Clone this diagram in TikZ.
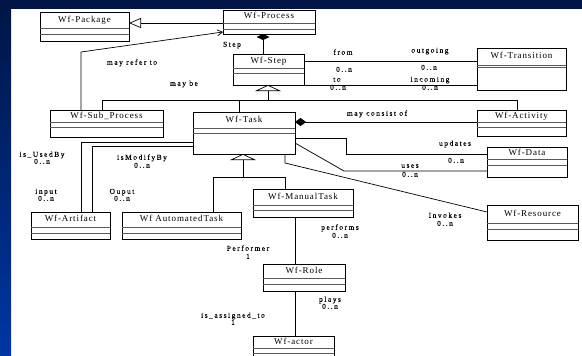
\documentclass[tikz,border=0pt]{standalone}
\usepackage{fontspec}
\setmainfont{Liberation Serif}
\newfontfamily\spfont[LetterSpace=20,FakeBold=0.15]{Liberation Serif}
\newfontfamily\ttlspfont[LetterSpace=10]{Liberation Serif}
\usetikzlibrary{arrows.meta,calc}
\definecolor{navy}{HTML}{001545}
\definecolor{sideblue}{HTML}{0036A3}
\newcommand\umlcls[8]{%
  \node[clsbox, minimum width={#4-#2}, minimum height={#5-#3}, anchor=north west] (#1) at (#2,#3) {};
  \node[ttl] (#1t) at ({(#2+#4)/2},{(#3+#6)/2}) {#8};
  \draw[compline] (#2,#6) -- (#4,#6) (#2,#7) -- (#4,#7);
}
\begin{document}
\begin{tikzpicture}[x=1pt,y=-1pt,
  clsbox/.style={draw=black, line width=0.9pt, inner sep=0pt, outer sep=0pt},
  compline/.style={draw=black!65, line width=0.8pt},
  ttl/.style={font=\ttlspfont\fontsize{9}{9}\selectfont, inner sep=0pt, text height=6pt, text depth=1.5pt},
  lbl/.style={font=\spfont\fontsize{7.5}{8}\selectfont, inner sep=0pt, text height=5pt, text depth=1.5pt},
  conn/.style={draw=black, line width=0.7pt},
  genbig/.style={-{Triangle[open,length=12pt,width=10pt]}},
  genflat/.style={-{Triangle[open,length=6pt,width=26pt]}}
]
\useasboundingbox (0,0) rectangle (582,356);
\fill[white] (0,0) rectangle (582,356);
\shade[top color=navy, bottom color=sideblue] (0,0) rectangle (11,356);
\fill[navy] (0,0) rectangle (582,9);

% classes
\umlcls{pkg}{40}{12}{129}{41}{28}{34}{Wf-Package}
\umlcls{proc}{223}{10}{315}{34}{23}{29}{Wf-Process}
\umlcls{step}{233}{54}{304}{85}{68}{73}{Wf-Step}
\umlcls{trans}{477}{48}{566}{90}{65}{67}{Wf-Transition}
\umlcls{sub}{50}{110}{163}{137}{122}{127}{Wf-Sub\_Process}
\umlcls{task}{193}{112}{295}{154}{128}{133}{Wf-Task}
\umlcls{act}{477}{110}{566}{136}{122}{127}{Wf-Activity}
\umlcls{data}{487}{147}{567}{177}{159}{165}{Wf-Data}
\umlcls{res}{487}{205}{578}{240}{223}{229}{Wf-Resource}
\umlcls{man}{253}{189}{353}{217}{205}{210}{Wf-ManualTask}
\umlcls{auto}{122}{212}{241}{239}{227}{233}{Wf AutomatedTask}
\umlcls{art}{31}{212}{110}{239}{227}{233}{Wf-Artifact}
\umlcls{role}{263}{264}{345}{291}{278}{284}{Wf-Role}
\umlcls{actor}{253}{336}{334}{358}{348}{353}{Wf-actor}

% Process -> Package generalization
\draw[conn, genbig] (proc.west |- 0,23) -- (pkg.east |- 0,23);
% may refer to
\draw[conn, -{Straight Barb[length=5pt,width=6pt]}] (sub.north -| 81,0) -- (81,52) -- (proc.west |- 0,32);
% Process <>-- Step
\draw[conn, {Diamond[length=6pt,width=13pt]}-] (proc.south -| 263,0) -- (step.north -| 263,0);
% Step -- Transition
\draw[conn] (step.east |- 0,61) -- (trans.west |- 0,61);
\draw[conn] (step.south east) -- (trans.west |- step.south east);
% Step generalization bus
\draw[conn, genflat] (268,100) -- (step.south -| 268,0);
\draw[conn] (sub.north -| 102,0) -- (102,100) -- (517,100) -- (act.north -| 517,0);
\draw[conn] (239,100) -- (task.north -| 239,0);
% Task <>-- Activity
\draw[conn, {Diamond[length=11pt,width=8pt]}-] (task.east |- 0,122) -- (act.west |- 0,122);
% updates / uses
\draw[conn] (task.east |- 0,138) -- (346,138) -- (346,154) -- (data.west |- 0,154);
\draw[conn] (task.east |- 0,143) -- (344,171) -- (data.west |- 0,171);
% Invokes
\draw[conn] (task.south -| 285,0) -- (285,163) -- (res.west |- 0,212);
% Task generalization
\draw[conn, genflat] (243,177) -- (task.south -| 243,0);
\draw[conn] (auto.north -| 213,0) -- (213,177) -- (285,177) -- (man.north -| 285,0);
% Artifact links
\draw[conn] (task.west |- 0,142) -- (81,142) -- (art.north -| 81,0);
\draw[conn] (task.west |- 0,146) -- (92,146) -- (art.north -| 92,0);
% ManualTask - Role - actor
\draw[conn] (man.south -| 295,0) -- (role.north -| 295,0);
\draw[conn] (role.south -| 295,0) -- (actor.north -| 295,0);

% labels
\node[lbl] (l1) at (232,45) {Step};
\node[lbl] (l2) at (132,63) {may refer to};
\node[lbl] (l3) at (184,84) {may be};
\node[lbl] (l4) at (343,53) {from};
\node[lbl] (l5) at (430,51) {outgoing};
\node[lbl] (l6) at (344,70) {0..n};
\node[lbl] (l7) at (429,68) {0..n};
\node[lbl] (l8) at (337,80) {to};
\node[lbl] (l9) at (338,88) {0..n};
\node[lbl] (l10) at (430,80) {incoming};
\node[lbl] (l11) at (430,88) {0..n};
\node[lbl] (l12) at (377,114) {may consist of};
\node[lbl] (l13) at (455,144) {updates};
\node[lbl] (l14) at (456,161) {0..n};
\node[lbl] (l15) at (410,166) {uses};
\node[lbl] (l16) at (410,175) {0..n};
\node[lbl] (l17) at (445,216) {Invokes};
\node[lbl] (l18) at (445,224) {0..n};
\node[lbl] (l19) at (340,228) {performs};
\node[lbl] (l20) at (340,236) {0..n};
\node[lbl] (l21) at (248,249) {Performer};
\node[lbl] (l22) at (248,257) {1};
\node[lbl] (l23) at (330,300) {plays};
\node[lbl] (l24) at (330,307) {0..n};
\node[lbl] (l25) at (233,316) {is\_assigned\_to};
\node[lbl] (l26) at (233,323) {1};
\node[lbl] (l27) at (42,155) {is\_UsedBy};
\node[lbl] (l28) at (42,162) {0..n};
\node[lbl] (l29) at (142,158) {isModifyBy};
\node[lbl] (l30) at (142,166) {0..n};
\node[lbl] (l31) at (46,192) {input};
\node[lbl] (l32) at (46,199) {0..n};
\node[lbl] (l33) at (122,192) {Ouput};
\node[lbl] (l34) at (122,199) {0..n};
\end{tikzpicture}
\end{document}
